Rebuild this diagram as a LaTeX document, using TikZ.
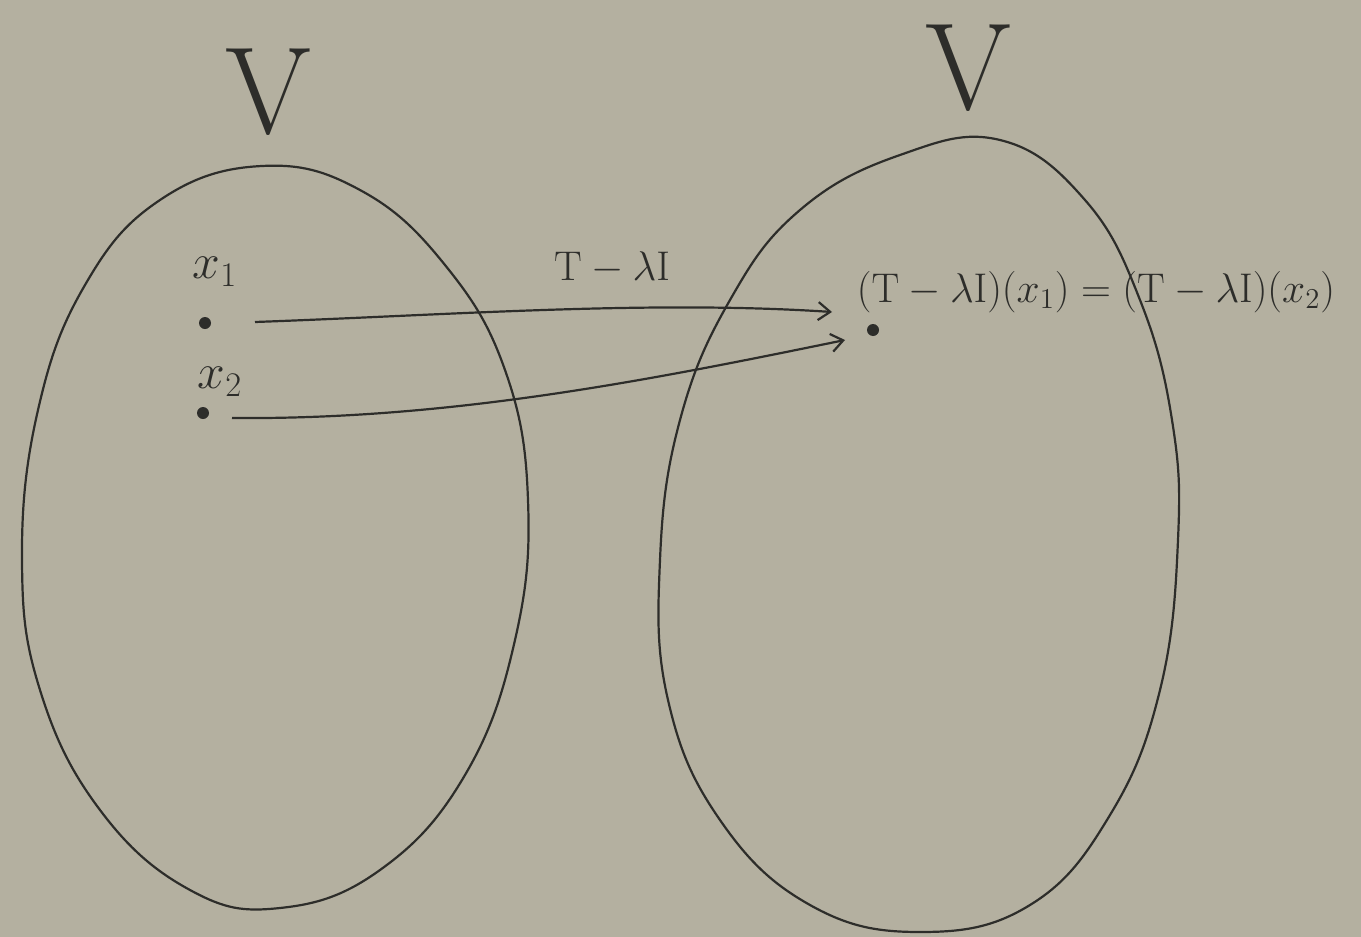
\documentclass[tikz,border=0pt]{standalone}
\usetikzlibrary{arrows.meta}
\definecolor{paper}{RGB}{180,176,160}
\definecolor{ink}{RGB}{45,45,42}
\begin{document}
\begin{tikzpicture}[x=0.5pt,y=-0.5pt,
  blob/.style={draw=ink,line width=1.1pt},
  dotpt/.style={circle,fill=ink,inner sep=0pt,minimum size=6pt},
  lbl/.style={text=ink,inner sep=0pt},
  maparrow/.style={draw=ink,line width=1.1pt,-{Straight Barb[length=6pt,width=9pt]}}]
\fill[paper] (0,0) rectangle (1361,937);
\useasboundingbox (0,0) rectangle (1361,937);
% left set
\draw[blob] plot[smooth cycle,tension=0.7] coordinates{
 (262,166) (360,190) (445,265) (505,370) (528,500) (515,640) (465,775) (380,870) (280,908) (190,890) (100,810) (40,690) (22,560) (38,410) (85,285) (160,200)};
% right set
\draw[blob] plot[smooth cycle,tension=0.7] coordinates{
 (1000,140) (1085,200) (1140,300) (1172,420) (1178,540) (1160,690) (1110,815) (1030,905) (920,932) (810,905) (720,820) (668,700) (660,560) (680,420) (730,300) (800,210) (900,155)};
\node[lbl,font=\fontsize{62}{66}\selectfont] (V1) at (268,92) {V};
\node[lbl,font=\fontsize{62}{66}\selectfont] (V2) at (968,68) {V};
\node[dotpt] (p1) at (205,323) {};
\node[dotpt] (p2) at (203,413) {};
\node[dotpt] (q) at (873,330) {};
\node[lbl,font=\fontsize{24}{28}\selectfont] (l1) at (215,272) {$x_1$};
\node[lbl,font=\fontsize{24}{28}\selectfont] (l2) at (220,382) {$x_2$};
\node[lbl,font=\fontsize{22}{26}\selectfont] (map) at (612,268) {$\mathrm{T}-\lambda \mathrm{I}$};
\node[lbl,font=\fontsize{22}{26}\selectfont] (img) at (1096,292) {$(\mathrm{T}-\lambda \mathrm{I})(x_1)=(\mathrm{T}-\lambda \mathrm{I})(x_2)$};
\coordinate (s1) at (255,322);
\coordinate (s2) at (232,418);
\coordinate (e1) at (832,312);
\coordinate (e2) at (845,340);
\draw[maparrow] (s1) .. controls (450,315) and (650,300) .. (e1);
\draw[maparrow] (s2) .. controls (450,420) and (650,380) .. (e2);
\end{tikzpicture}
\end{document}
